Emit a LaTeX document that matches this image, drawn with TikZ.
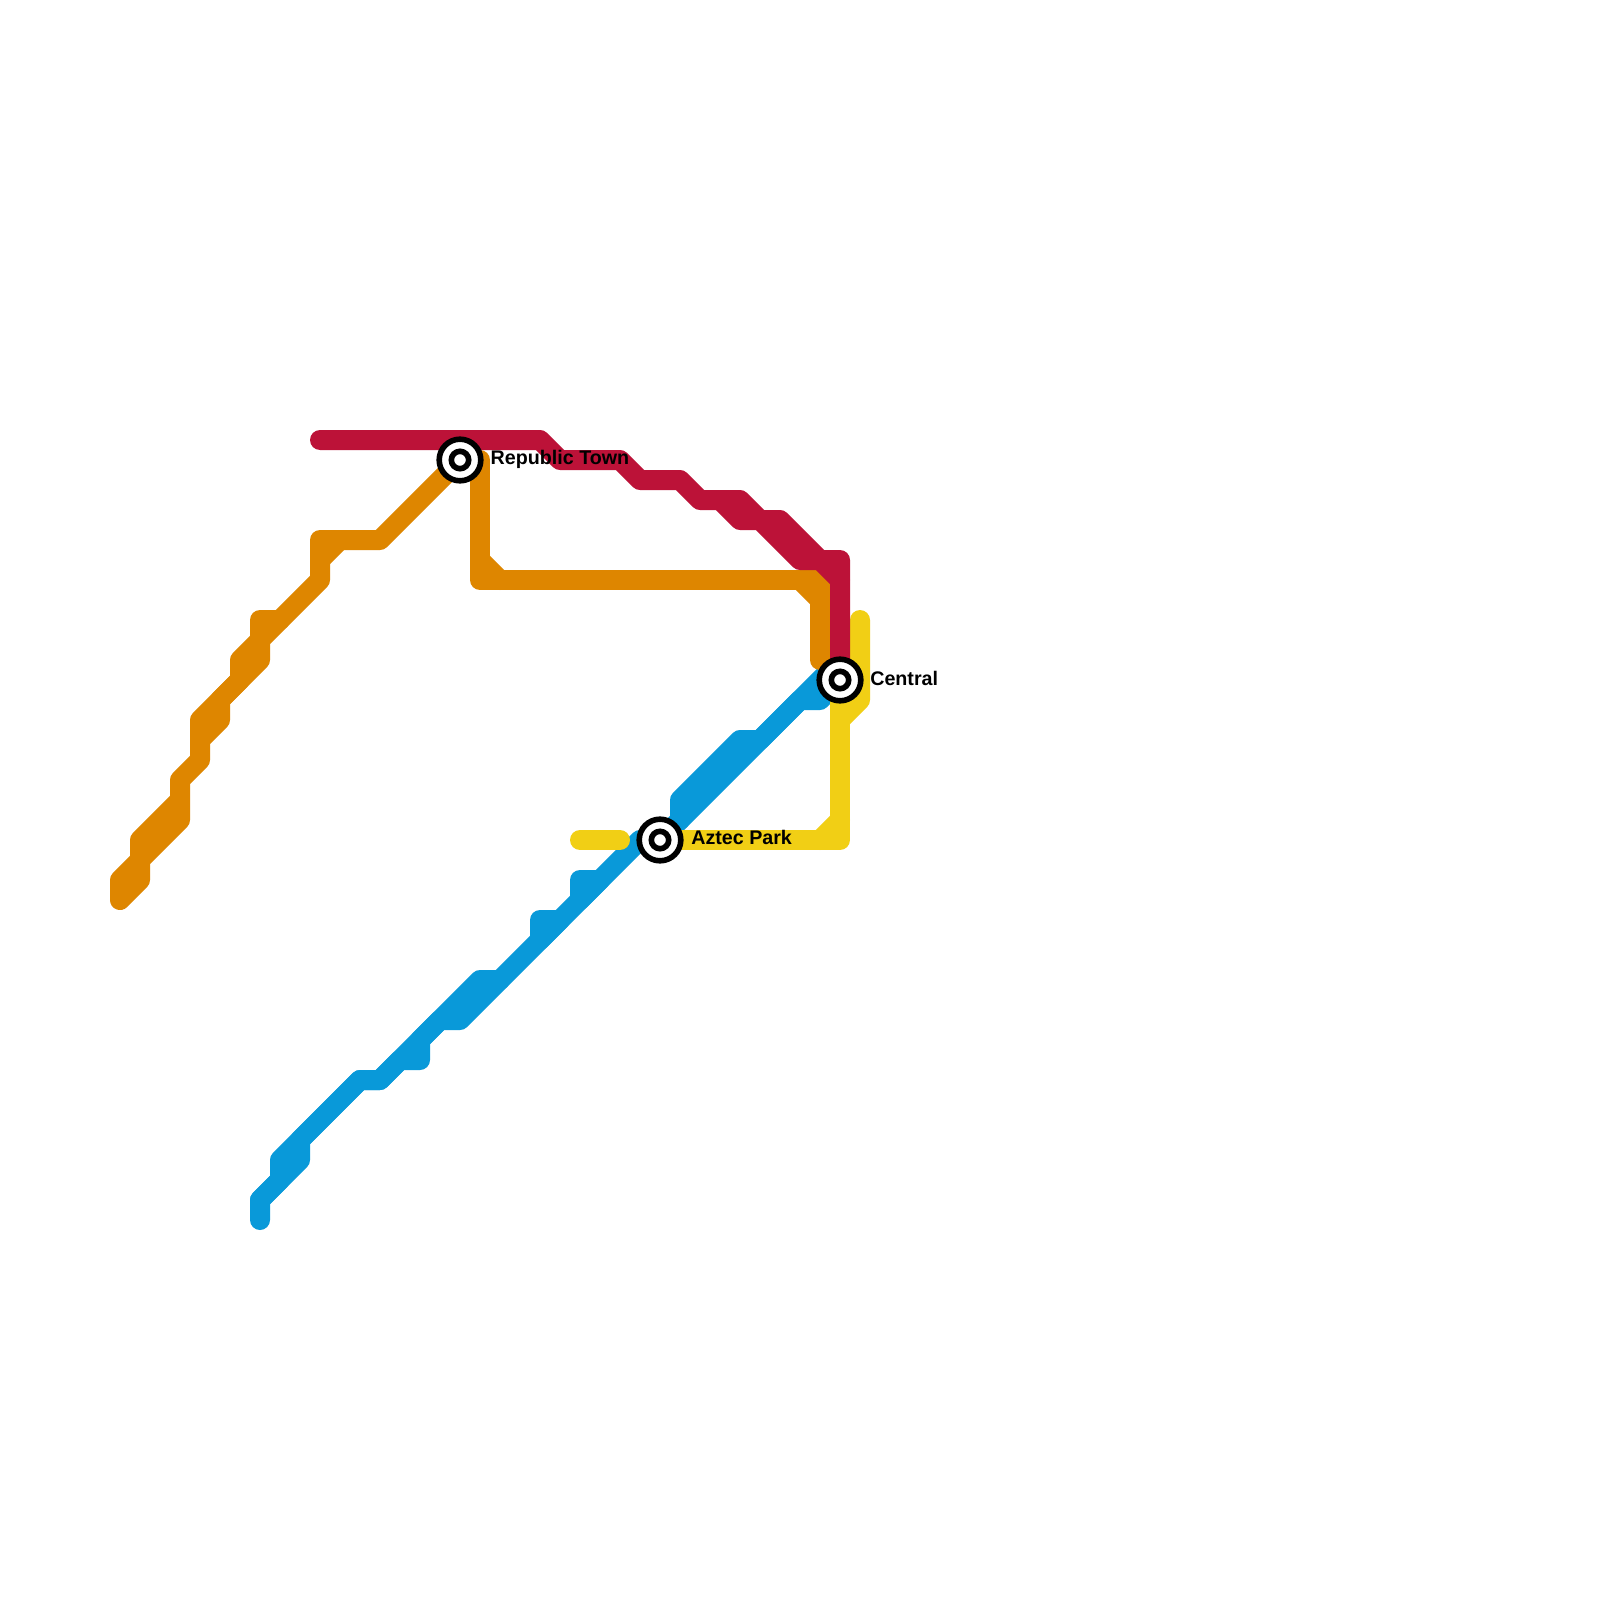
\documentclass[tikz,border=0pt]{standalone}
\usepackage{fontspec}
\setmainfont{Liberation Sans}
\definecolor{lineblue}{RGB}{9,153,217}
\definecolor{lineyellow}{RGB}{241,207,21}
\definecolor{lineorange}{RGB}{222,134,0}
\definecolor{linered}{RGB}{188,18,56}
\usetikzlibrary{positioning}

\begin{document}
\begin{tikzpicture}[
  x=2mm,y=-2mm,
  every node/.style={font=\bfseries\fontsize{5.6}{7}\selectfont},
  metroline/.style={line width=2mm,line cap=round,line join=round},
  stationring/.style={circle,draw=black,fill=white,line width=0.56mm,minimum size=4.16mm,inner sep=0pt},
  stationcore/.style={circle,draw=black,fill=white,line width=0.56mm,minimum size=1.74mm,inner sep=0pt},
  stationname/.style={anchor=base west,inner sep=0pt},
]
  \fill[white] (0,0) rectangle (80,80);
  \useasboundingbox (0,0) rectangle (80,80);
  \coordinate (republic) at (23,23);
  \coordinate (aztec) at (33,42);
  \coordinate (central) at (42,34);
  % Blue line
  \draw[metroline,lineblue] (aztec) -- (40,35) -- (41,35) -- (central);
  \draw[metroline,lineblue] (34,41) -- (34,40) -- (37,37) -- (38,37) -- (42,33);
  \draw[metroline,lineblue] (32,42) -- (23,51) -- (22,51) -- (21,52) -- (21,53) -- (20,53) -- (19,54) -- (18,54)
    -- (15,57) -- (15,58) -- (13,60) -- (13,61);
  \draw[metroline,lineblue] (13,60) -- (14,59) -- (14,58) -- (18,54) -- (19,54) -- (24,49) -- (25,49);
  \draw[metroline,lineblue] (27,46) -- (28,46) -- (27,47) -- (27,46);
  \draw[metroline,lineblue] (29,44) -- (30,44) -- (29,45) -- (29,44);
  % Yellow line
  \draw[metroline,lineyellow] (29,42) -- (31,42);
  \draw[metroline,lineyellow] (aztec) -- (42,42) -- (central);
  \draw[metroline,lineyellow] (41,42) -- (42,41);
  \draw[metroline,lineyellow] (43,31) -- (43,35) -- (42,36);
  % Orange line
  \draw[metroline,lineorange] (republic) -- (19,27) -- (16,27) -- (16,29) -- (13,32) -- (13,33) -- (11,35) -- (11,36)
    -- (10,37) -- (10,38) -- (9,39) -- (9,41) -- (7,43) -- (7,44) -- (6,45) -- (6,44) -- (7,43) -- (7,42) -- (9,40);
  \draw[metroline,lineorange] (16,28) -- (17,27);
  \draw[metroline,lineorange] (14,31) -- (13,31) -- (13,32);
  \draw[metroline,lineorange] (10,37) -- (10,36) -- (12,34) -- (12,33) -- (13,32);
  \draw[metroline,lineorange] (24,23) -- (24,29) -- (41,29) -- (41,33);
  \draw[metroline,lineorange] (24,28) -- (25,29);
  \draw[metroline,lineorange] (40,29) -- (41,30);
  % Red line
  \draw[metroline,linered] (16,22) -- (27,22) -- (28,23) -- (31,23) -- (32,24) -- (34,24) -- (35,25) -- (37,25)
    -- (38,26) -- (39,26) -- (41,28) -- (42,28) -- (central);
  \draw[metroline,linered] (36,25) -- (37,26) -- (38,26) -- (40,28) -- (41,28) -- (42,29);
  % Stations
  \node[stationring] (republicring) at (republic) {};
  \node[stationcore] (republiccore) at (republic) {};
  \node[stationring] (aztecring) at (aztec) {};
  \node[stationcore] (azteccore) at (aztec) {};
  \node[stationring] (centralring) at (central) {};
  \node[stationcore] (centralcore) at (central) {};
  \node[stationname] (republicname) at (24.5,23.22) {Republic Town};
  \node[stationname] (aztecname) at (34.53,42.24) {Aztec Park};
  \node[stationname] (centralname) at (43.48,34.25) {Central};
\end{tikzpicture}
\end{document}
